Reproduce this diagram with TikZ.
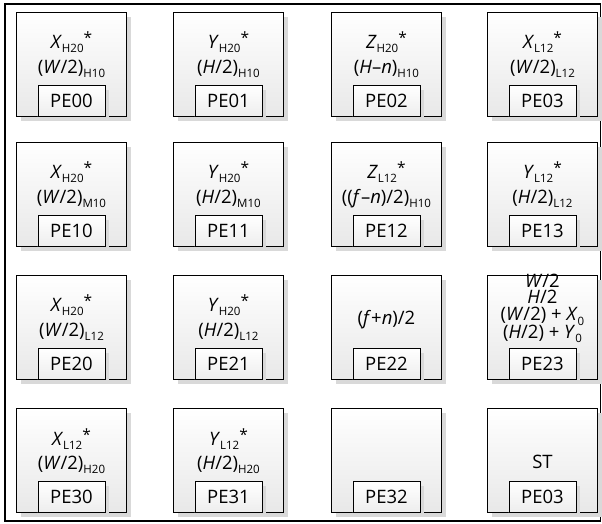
\documentclass[tikz,border=0pt]{standalone}
\usepackage{fontspec}
\setmainfont{Open Sans}
\usetikzlibrary{shadows}
% upright lowered index and raised asterisk
\newcommand\lo[1]{\raisebox{-0.5ex}{\fontsize{11.5}{12}\selectfont #1}}
\newcommand\starmark{\raisebox{4.5pt}{\fontsize{15.5}{15}\selectfont *}}
% a processing element: outer cell plus its labelled tag at the bottom
\newcommand\pecell[4]{%
  \node[cell] (#1) at (#2,#3) {};
  \node[pe] (#1pe) at (#1.south) {#4};}
\begin{document}
\begin{tikzpicture}[x=1pt,y=-1pt,
  shade/.style={drop shadow={shadow xshift=4.5pt,shadow yshift=-4.5pt,fill=black!15,opacity=1}},
  cell/.style={draw=black,line width=0.9pt,minimum width=110pt,minimum height=104pt,
    anchor=north west,inner sep=0pt,top color=white,bottom color=black!9,shade},
  pe/.style={draw=black,line width=0.9pt,minimum width=67pt,minimum height=31pt,
    anchor=south,inner sep=0pt,top color=white,bottom color=black!7,shade,
    font=\fontsize{18.5}{20}\selectfont},
  lbl/.style={anchor=base,inner sep=0pt,font=\fontsize{18.5}{20}\selectfont},
  stack/.style={anchor=base,inner sep=0pt,align=center,font=\fontsize{18.5}{16.5}\selectfont},
  frame/.style={draw=black,line width=1.3pt}]
\useasboundingbox (0,0) rectangle (602,523);
\draw[frame] (5,4) rectangle (600.5,521);

% row 0
\pecell{c00}{16}{12}{PE00}
\pecell{c01}{173}{12}{PE01}
\pecell{c02}{331}{12}{PE02}
\pecell{c03}{487}{12}{PE03}
% row 1
\pecell{c10}{16}{142}{PE10}
\pecell{c11}{173}{142}{PE11}
\pecell{c12}{331}{142}{PE12}
\pecell{c13}{487}{142}{PE13}
% row 2
\pecell{c20}{16}{275}{PE20}
\pecell{c21}{173}{275}{PE21}
\pecell{c22}{331}{275}{PE22}
\pecell{c23}{487}{275}{PE23}
% row 3
\pecell{c30}{16}{408}{PE30}
\pecell{c31}{173}{408}{PE31}
\pecell{c32}{331}{408}{PE32}
\pecell{c33}{487}{408}{PE03}

% cell contents
\node[lbl,yshift=-36pt] (t00a) at (c00.north) {\textit{X}\lo{H20}\starmark};
\node[lbl,yshift=-61pt] (t00b) at (c00.north) {(\textit{W}/2)\lo{H10}};
\node[lbl,yshift=-36pt] (t01a) at (c01.north) {\textit{Y}\lo{H20}\starmark};
\node[lbl,yshift=-61pt] (t01b) at (c01.north) {(\textit{H}/2)\lo{H10}};
\node[lbl,yshift=-36pt] (t02a) at (c02.north) {\textit{Z}\lo{H20}\starmark};
\node[lbl,yshift=-61pt] (t02b) at (c02.north) {(\textit{H}–\textit{n})\lo{H10}};
\node[lbl,yshift=-36pt] (t03a) at (c03.north) {\textit{X}\lo{L12}\starmark};
\node[lbl,yshift=-61pt] (t03b) at (c03.north) {(\textit{W}/2)\lo{L12}};

\node[lbl,yshift=-36pt] (t10a) at (c10.north) {\textit{X}\lo{H20}\starmark};
\node[lbl,yshift=-61pt] (t10b) at (c10.north) {(\textit{W}/2)\lo{M10}};
\node[lbl,yshift=-36pt] (t11a) at (c11.north) {\textit{Y}\lo{H20}\starmark};
\node[lbl,yshift=-61pt] (t11b) at (c11.north) {(\textit{H}/2)\lo{M10}};
\node[lbl,yshift=-36pt] (t12a) at (c12.north) {\textit{Z}\lo{L12}\starmark};
\node[lbl,yshift=-61pt] (t12b) at (c12.north) {((\textit{f}–\textit{n})/2)\lo{H10}};
\node[lbl,yshift=-36pt] (t13a) at (c13.north) {\textit{Y}\lo{L12}\starmark};
\node[lbl,yshift=-61pt] (t13b) at (c13.north) {(\textit{H}/2)\lo{L12}};

\node[lbl,yshift=-36pt] (t20a) at (c20.north) {\textit{X}\lo{H20}\starmark};
\node[lbl,yshift=-61pt] (t20b) at (c20.north) {(\textit{W}/2)\lo{L12}};
\node[lbl,yshift=-36pt] (t21a) at (c21.north) {\textit{Y}\lo{H20}\starmark};
\node[lbl,yshift=-61pt] (t21b) at (c21.north) {(\textit{H}/2)\lo{L12}};
\node[lbl,yshift=-49pt] (t22a) at (c22.north) {(\textit{f}+\textit{n})/2};
% four tightly stacked lines (base = last line)
\node[stack,yshift=-63pt] (t23) at (c23.north)
  {\textit{W}/2\\ \textit{H}/2\\ (\textit{W}/2) + \textit{X}\lo{0}\\[-1.5pt] (\textit{H}/2) + \textit{Y}\lo{0}};

\node[lbl,yshift=-37pt] (t30a) at (c30.north) {\textit{X}\lo{L12}\starmark};
\node[lbl,yshift=-61pt] (t30b) at (c30.north) {(\textit{W}/2)\lo{H20}};
\node[lbl,yshift=-37pt] (t31a) at (c31.north) {\textit{Y}\lo{L12}\starmark};
\node[lbl,yshift=-61pt] (t31b) at (c31.north) {(\textit{H}/2)\lo{H20}};
\node[lbl,yshift=-60pt] (t33a) at (c33.north) {ST};
\end{tikzpicture}
\end{document}
